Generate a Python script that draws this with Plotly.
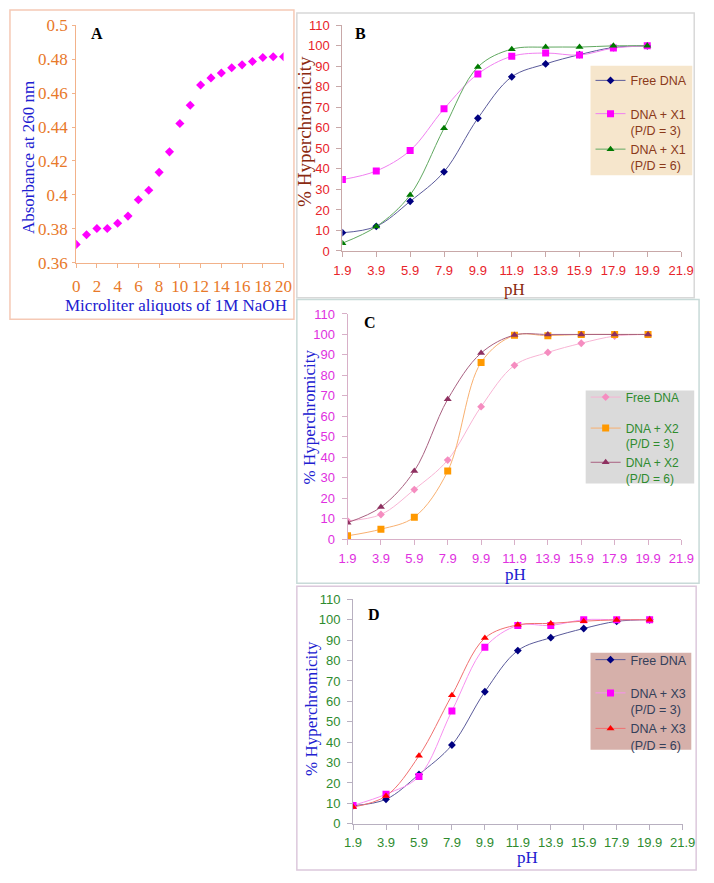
import plotly.graph_objects as go

W, H = 714, 883

# ---------------- data ----------------
naoh_ul = list(range(21))
absorbance = [0.3708, 0.3765, 0.3802, 0.3802, 0.3833, 0.3875, 0.3971, 0.4027, 0.4133,
              0.4254, 0.4421, 0.4529, 0.4648, 0.4690, 0.4719, 0.4750, 0.4767, 0.4787,
              0.4810, 0.4815, 0.4815]

ph = [1.9, 3.9, 5.9, 7.9, 9.9, 11.9, 13.9, 15.9, 17.9, 19.9]
free_dna = [8.9, 12.0, 24.2, 38.6, 64.7, 84.9, 91.2, 95.7, 99.2, 100]
x1_pd3 = [34.8, 39.0, 49.0, 69.3, 86.3, 94.9, 96.5, 95.5, 98.9, 100]
x1_pd6 = [3.8, 11.9, 27.3, 59.8, 89.7, 98.4, 99.4, 99.4, 100, 100]
x2_pd3 = [1.6, 4.8, 10.7, 33.2, 86.3, 99.6, 99.4, 100, 100, 100]
x2_pd6 = [8.0, 15.6, 33.3, 68.3, 90.9, 99.7, 100, 100, 100, 100]
x3_pd3 = [9.0, 14.5, 23.2, 55.3, 86.5, 97.2, 97.2, 100, 100, 100]
x3_pd6 = [8.2, 13.6, 33.3, 63.0, 91.0, 97.5, 98.2, 99.3, 99.9, 100]

ph_ticks = [1.9, 3.9, 5.9, 7.9, 9.9, 11.9, 13.9, 15.9, 17.9, 19.9, 21.9]
ph_ticklabels = ["1.9", "3.9", "5.9", "7.9", "9.9", "11.9", "13.9", "15.9", "17.9", "19.9", "21.9"]
hyper_ticks = [0, 10, 20, 30, 40, 50, 60, 70, 80, 90, 100, 110]
abs_ticks = [0.36, 0.38, 0.40, 0.42, 0.44, 0.46, 0.48, 0.50]
abs_ticklabels = ["0.36", "0.38", "0.4", "0.42", "0.44", "0.46", "0.48", "0.5"]
naoh_ticks = [0, 2, 4, 6, 8, 10, 12, 14, 16, 18, 20]

SERIF = "Liberation Serif, Times New Roman, serif"
SANS = "Liberation Sans, Arial, sans-serif"


def fx(x):
    return x / W


def fy(y):
    return 1 - y / H


fig = go.Figure()

# ---------------- panel A ----------------
fig.add_trace(go.Scatter(
    x=naoh_ul, y=absorbance, mode="markers", xaxis="x", yaxis="y",
    marker=dict(symbol="diamond", size=7, color="#FF00FF"), showlegend=False))

# ---------------- panels B, C, D ----------------
panels = [
    dict(ax="2", legend="legend", series=[
        ("Free DNA", free_dna, "diamond", "#000080", "#5A5A9A", 6, 1),
        ("DNA + X1<br>(P/D = 3)", x1_pd3, "square", "#FF00FF", "#F080F0", 7, 2),
        ("DNA + X1<br>(P/D = 6)", x1_pd6, "triangle-up", "#007A00", "#60A860", 7, 2),
    ]),
    dict(ax="3", legend="legend2", series=[
        ("Free DNA", free_dna, "diamond", "#F58DC0", "#F8B4D4", 6, 1),
        ("DNA + X2<br>(P/D = 3)", x2_pd3, "square", "#FF9900", "#F8B070", 7, 2),
        ("DNA + X2<br>(P/D = 6)", x2_pd6, "triangle-up", "#8E3060", "#A86080", 7, 2),
    ]),
    dict(ax="4", legend="legend3", series=[
        ("Free DNA", free_dna, "diamond", "#000080", "#5A5A9A", 6, 1),
        ("DNA + X3<br>(P/D = 3)", x3_pd3, "square", "#FF00FF", "#F890F0", 7, 2),
        ("DNA + X3<br>(P/D = 6)", x3_pd6, "triangle-up", "#FF0000", "#F07070", 7, 2),
    ]),
]

for p in panels:
    for name, vals, sym, mcol, lcol, msize, grp in p["series"]:
        fig.add_trace(go.Scatter(
            x=ph, y=vals, name=name, mode="lines+markers",
            xaxis="x" + p["ax"], yaxis="y" + p["ax"], legend=p["legend"],
            legendgroup=p["ax"] + "_" + str(grp),
            line=dict(color=lcol, width=1, shape="spline"),
            marker=dict(symbol=sym, size=msize, color=mcol)))


def axis_common(color, tickcolor, font, size):
    return dict(showline=True, linecolor=color, linewidth=1, ticks="outside",
                tickcolor=color, ticklen=5, showgrid=False, zeroline=False,
                tickfont=dict(family=font, size=size, color=tickcolor))


layout = dict(
    width=W, height=H, margin=dict(l=0, r=0, t=0, b=0),
    paper_bgcolor="white", plot_bgcolor="rgba(0,0,0,0)",
)

# Panel A axes
layout["xaxis"] = dict(axis_common("#F2B28A", "#E8792A", SERIF, 17),
                       domain=[fx(69.3), fx(283.3)], range=[0, 20], anchor="y",
                       tickvals=naoh_ticks, ticklen=4, ticklabelstandoff=4)
layout["yaxis"] = dict(axis_common("#F2B28A", "#E8792A", SERIF, 17),
                       domain=[fy(259.3), fy(16.7)], range=[0.36, 0.5], anchor="x",
                       tickvals=abs_ticks, ticktext=abs_ticklabels, ticklen=3,
                       ticklabelstandoff=1)

# Panels B, C, D axes
geo = {
    "2": dict(x0=344, x1=693.5, ytop=16.7, ybot=247.3, line="#C8A8A8", tick="#E8232A"),
    "3": dict(x0=349.3, x1=693.8, ytop=311.7, ybot=541.7, line="#D8B0C8", tick="#E030E0"),
    "4": dict(x0=355, x1=695, ytop=603.3, ybot=832.7, line="#B8B0C0", tick="#2E8B2E"),
}
for k, g in geo.items():
    layout["xaxis" + k] = dict(axis_common(g["line"], g["tick"], SANS, 13),
                               domain=[fx(g["x0"]), fx(g["x1"])], range=[1.9, 21.9],
                               anchor="y" + k, tickvals=ph_ticks, ticktext=ph_ticklabels,
                               ticklabelstandoff=2)
    layout["yaxis" + k] = dict(axis_common(g["line"], g["tick"], SANS, 13),
                               domain=[fy(g["ybot"]), fy(g["ytop"])], range=[0, 110],
                               anchor="x" + k, tickvals=hyper_ticks, ticklabelstandoff=4)

# Legends (transparent; their background boxes are drawn as shapes)
leg_common = dict(xanchor="left", yanchor="top", traceorder="grouped",
                  valign="top", borderwidth=0, itemwidth=30,
                  bgcolor="rgba(0,0,0,0)")
layout["legend"] = dict(leg_common, x=fx(600), y=fy(58), tracegroupgap=14,
                        font=dict(family=SANS, size=12.5, color="#8B3A1A"))
layout["legend2"] = dict(leg_common, x=fx(595), y=fy(382), tracegroupgap=12,
                         font=dict(family=SANS, size=12, color="#2E8B2E"))
layout["legend3"] = dict(leg_common, x=fx(600), y=fy(650), tracegroupgap=14,
                         font=dict(family=SANS, size=12.5, color="#34405A"))

# Panel borders and legend boxes
borders = [
    (1, 1, 294, 317, "#F5C9B5"),
    (297, 4, 707, 295, "#D8D8D8"),
    (297, 297, 712, 587, "#C8DAD8"),
    (297, 590, 709, 880, "#DCC8DC"),
]
shapes = [dict(type="rect", xref="paper", yref="paper",
               x0=fx(a), y0=fy(d), x1=fx(c), y1=fy(b),
               line=dict(color=col, width=1.5), layer="below")
          for a, b, c, d, col in borders]
legend_boxes = [
    (600, 58, 705, 170, "#F6E6CC"),
    (595, 390, 707, 485, "#DADADA"),
    (600, 658, 704, 757, "#D6B0AA"),
]
shapes += [dict(type="rect", xref="paper", yref="paper",
                x0=fx(a), y0=fy(d), x1=fx(c), y1=fy(b),
                line=dict(width=0), fillcolor=col, layer="below")
           for a, b, c, d, col in legend_boxes]
layout["shapes"] = shapes

# Text annotations (titles, panel letters)
ann = []


def text(x, y, s, size, color, bold=False, angle=0, family=SERIF):
    ann.append(dict(xref="paper", yref="paper", x=fx(x), y=fy(y), text=s,
                    showarrow=False, textangle=angle, xanchor="center", yanchor="middle",
                    font=dict(family=family, size=size, color=color,
                              weight="bold" if bold else "normal")))


text(91, 25, "A", 16, "black", bold=True)
text(363, 25, "B", 16, "black", bold=True)
text(372, 320, "C", 16, "black", bold=True)
text(377, 619, "D", 16, "black", bold=True)

text(20, 152, "Absorbance at 260 nm", 17, "#2020D0", angle=-90)
text(172, 303, "Microliter aliquots of 1M NaOH", 17, "#2020D0")

text(305, 125, "% Hyperchromicity", 19, "#8B2A10", angle=-90)
text(522, 287, "pH", 17, "#8B2A10")
text(310, 417, "% Hyperchromicity", 17, "#2020D0", angle=-90)
text(523, 578, "pH", 17, "#2020D0")
text(312, 715, "% Hyperchromicity", 17, "#2020D0", angle=-90)
text(535, 867, "pH", 17, "#2020D0")
layout["annotations"] = ann

fig.update_layout(**layout)
fig.write_html("out.html", config={"displayModeBar": False},
               post_script="document.body.style.margin='0';")
